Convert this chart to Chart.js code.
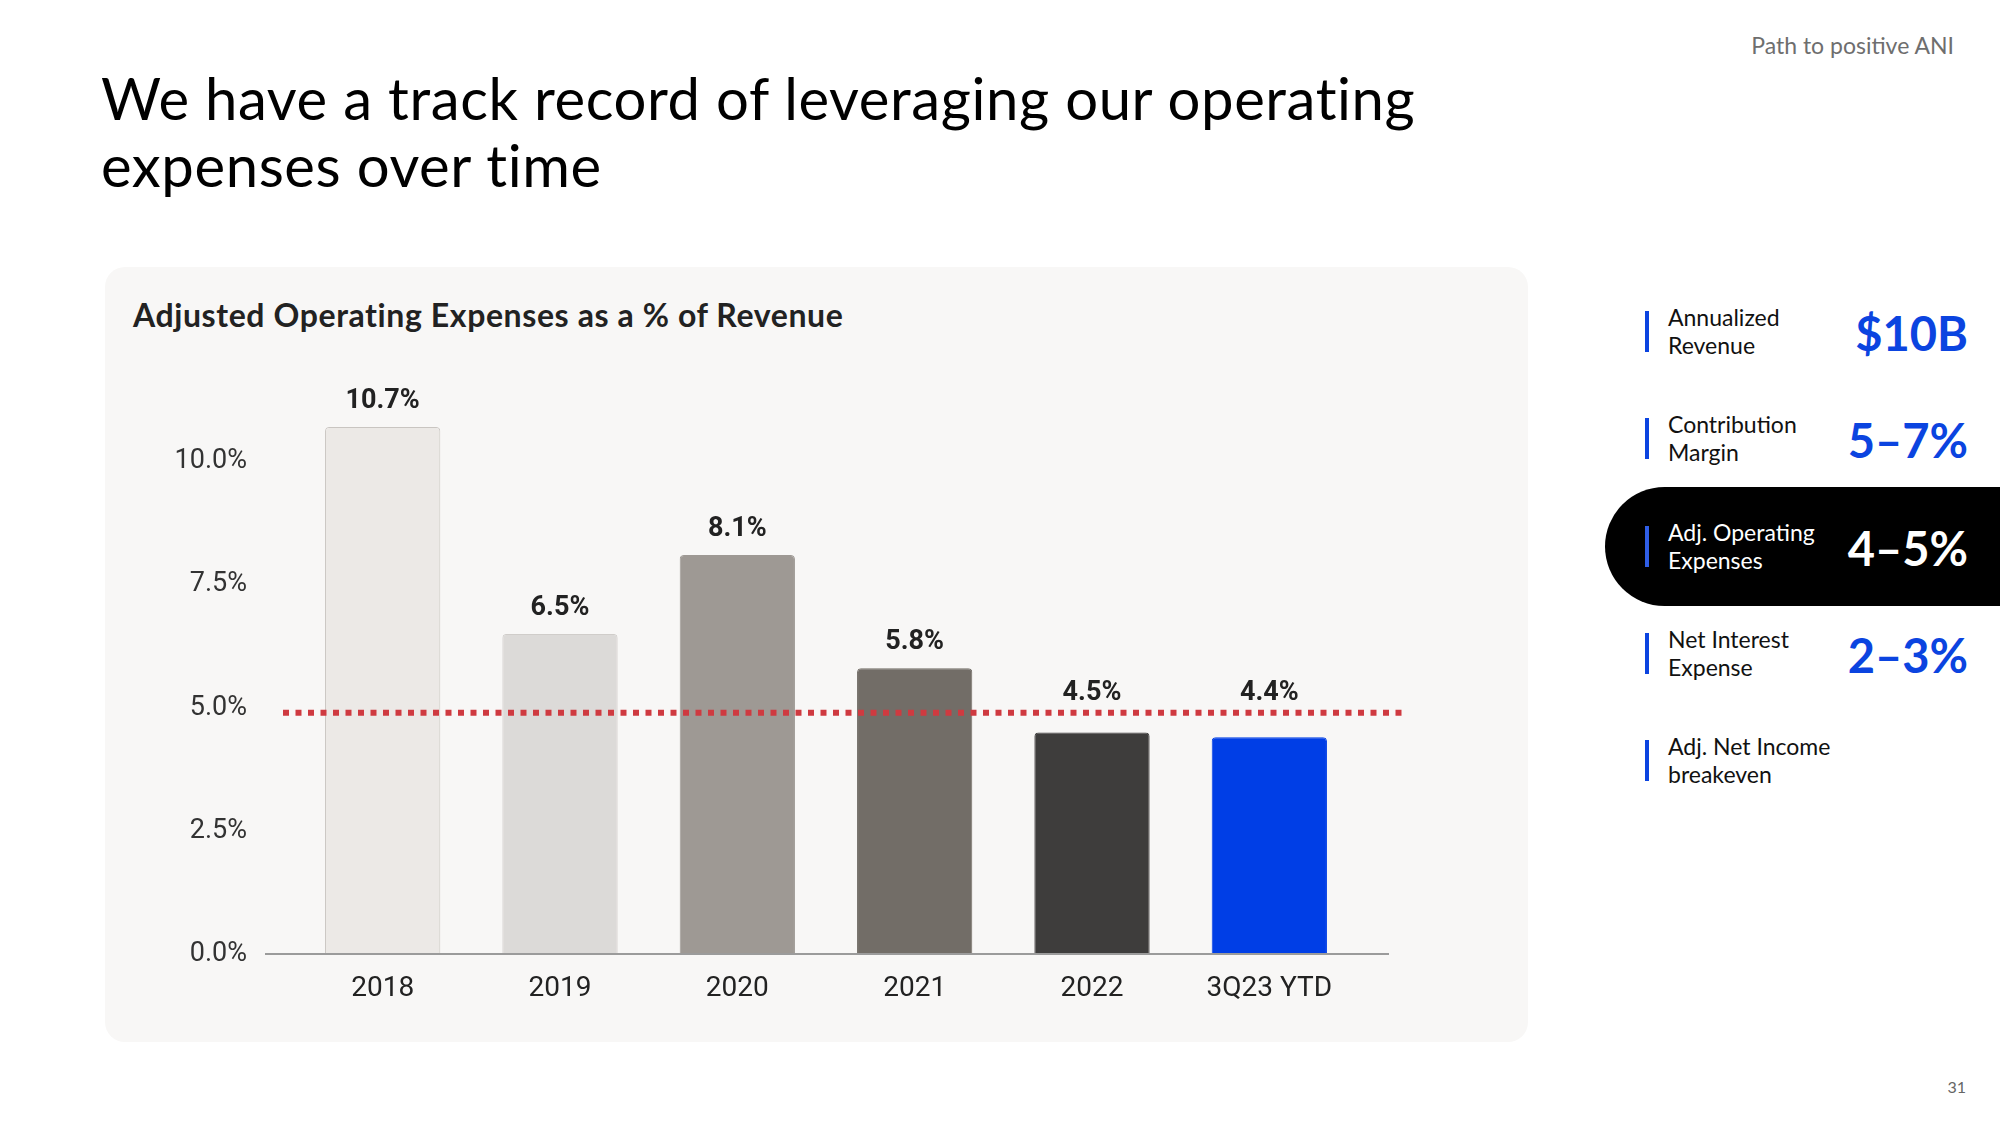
<!DOCTYPE html>
<html>
<head>
<meta charset="utf-8">
<script src="https://cdn.jsdelivr.net/npm/chart.js@4.4.1/dist/chart.umd.min.js"></script>
<style>
  html, body { margin: 0; padding: 0; background: #fff; }
  body { width: 2000px; height: 1125px; position: relative; overflow: hidden; font-family: Lato, "Noto Sans", sans-serif; color: #000; }
  .title { position: absolute; left: 101px; top: 64px; font-size: 58px; line-height: 67px; font-weight: 400; letter-spacing: 0.6px; }
  .section { position: absolute; right: 46px; top: 30px; font-size: 23px; line-height: 30px; color: #6e6e6e; }
  .page { position: absolute; right: 34px; top: 1077px; font-size: 16px; color: #666; }
  .card { position: absolute; left: 105px; top: 267px; width: 1423px; height: 775px; background: #f8f7f6; border-radius: 20px; }
  .card-title { position: absolute; left: 28px; top: 30px; font-size: 32px; line-height: 36px; font-weight: 700; color: #222; letter-spacing: 0.6px; }
  .chart-box { position: absolute; left: 0; top: 0; width: 1423px; height: 775px; }
  .pill { position: absolute; left: 1605px; top: 487px; width: 395px; height: 119px; background: #000; border-radius: 60px 0 0 60px; }
  .kpi-bar { position: absolute; left: 1645px; width: 4px; height: 41px; background: #0b44e0; }
  .kpi-label { position: absolute; left: 1668px; font-size: 23px; line-height: 28px; color: #111; }
  .kpi-value { position: absolute; right: 32px; font-size: 47px; line-height: 60px; font-weight: 700; color: #0b44e0; }
  .on-dark { color: #fff; }
</style>
</head>
<body>
<div class="title">We have a track record of leveraging our operating<br>expenses over time</div>
<div class="section">Path to positive ANI</div>

<div class="card">
  <div class="card-title">Adjusted Operating Expenses as a % of Revenue</div>
  <div class="chart-box"><canvas id="opexChart"></canvas></div>
</div>

<div class="pill"></div>
<div id="kpis"></div>
<div class="page">31</div>

<script>
// chart values
const categories = ['2018', '2019', '2020', '2021', '2022', '3Q23 YTD'];
const opexPct = [10.7, 6.5, 8.1, 5.8, 4.5, 4.4];
const yTicks = [0, 2.5, 5, 7.5, 10];
const targetPct = 4.9;

// bar styling
const barColors = ['#ece9e6', '#dcdad8', '#9e9994', '#726d67', '#3e3d3c', '#003ee6'];
const barBorders = ['#c9c5c1', '#d0cdca', '#9e9994', '#726d67', '#3e3d3c', '#003ee6'];

// side panel
const kpiLabels = [['Annualized', 'Revenue'], ['Contribution', 'Margin'], ['Adj. Operating', 'Expenses'], ['Net Interest', 'Expense'], ['Adj. Net Income', 'breakeven']];
const kpiValues = ['$10B', '5–7%', '4–5%', '2–3%', ''];
const kpiCenters = [318, 425, 533, 640, 747];
const activeKpi = 2;

document.addEventListener('DOMContentLoaded', function () {
    const kpiBox = document.getElementById('kpis');
    kpiLabels.forEach((lines, i) => {
        const top = kpiCenters[i] - 15;
        const dark = i === activeKpi;

        const bar = document.createElement('div');
        bar.className = 'kpi-bar';
        bar.style.top = (top + 8) + 'px';
        if (dark) bar.style.background = '#2f5ee6';
        kpiBox.appendChild(bar);

        const label = document.createElement('div');
        label.className = 'kpi-label' + (dark ? ' on-dark' : '');
        label.style.top = top + 'px';
        label.innerHTML = lines.join('<br>');
        kpiBox.appendChild(label);

        if (kpiValues[i]) {
            const val = document.createElement('div');
            val.className = 'kpi-value' + (dark ? ' on-dark' : '');
            val.style.top = (kpiCenters[i] + 15 - 30) + 'px';
            val.textContent = kpiValues[i];
            kpiBox.appendChild(val);
        }
    });

    // dotted target line, baseline and value labels
    const overlayPlugin = {
        id: 'overlay',
        afterDatasetsDraw(chart) {
            const { ctx, chartArea, scales } = chart;
            const targetY = scales.y.getPixelForValue(targetPct);
            const baseY = scales.y.getPixelForValue(0);

            ctx.save();
            // axis baseline
            ctx.strokeStyle = '#9b9b9b';
            ctx.lineWidth = 2;
            ctx.beginPath();
            ctx.moveTo(chartArea.left - 29, baseY);
            ctx.lineTo(chartArea.right + 31, baseY);
            ctx.stroke();

            // target line
            ctx.strokeStyle = '#cf3a40';
            ctx.lineWidth = 6;
            ctx.setLineDash([6, 6.5]);
            ctx.beginPath();
            ctx.moveTo(chartArea.left - 11, targetY);
            ctx.lineTo(chartArea.right + 47, targetY);
            ctx.stroke();
            ctx.setLineDash([]);

            // value labels
            ctx.fillStyle = '#222';
            ctx.font = 'bold 27px Roboto';
            ctx.textAlign = 'center';
            ctx.textBaseline = 'middle';
            const meta = chart.getDatasetMeta(0);
            meta.data.forEach((bar, i) => {
                const y = Math.min(bar.y - 26, targetY - 19);
                ctx.fillText(opexPct[i].toFixed(1) + '%', bar.x, y);
            });
            ctx.restore();
        }
    };

    const ctx = document.getElementById('opexChart').getContext('2d');
    new Chart(ctx, {
        type: 'bar',
        data: {
            labels: categories,
            datasets: [{
                data: opexPct,
                backgroundColor: barColors,
                borderColor: barBorders,
                borderWidth: 1,
                borderRadius: 4,
                borderSkipped: 'start',
                categoryPercentage: 1,
                barPercentage: 0.65
            }]
        },
        options: {
            responsive: true,
            maintainAspectRatio: false,
            animation: false,
            layout: { padding: { top: 96, right: 170, left: 0, bottom: 0 } },
            plugins: { legend: { display: false }, tooltip: { enabled: false } },
            scales: {
                x: {
                    grid: { display: false, drawTicks: false },
                    border: { display: false },
                    ticks: { color: '#222', font: { family: 'Roboto', size: 28 }, padding: 18 },
                    afterFit: s => { s.height = 88; }
                },
                y: {
                    min: 0,
                    max: 12,
                    grid: { display: false, drawTicks: false },
                    border: { display: false },
                    ticks: {
                        color: '#333',
                        font: { family: 'Roboto', size: 27 },
                        padding: 47,
                        callback: v => v.toFixed(1) + '%'
                    },
                    afterBuildTicks: s => { s.ticks = yTicks.map(v => ({ value: v })); },
                    afterFit: s => { s.width = 189; }
                }
            }
        },
        plugins: [overlayPlugin]
    });
});
</script>
</body>
</html>
